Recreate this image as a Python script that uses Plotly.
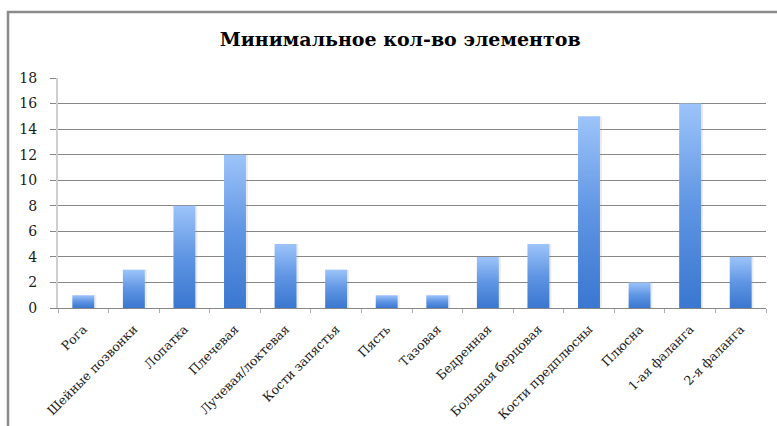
import plotly.graph_objects as go

categories = ["Рога", "Шейные позвонки", "Лопатка", "Плечевая", "Лучевая/локтевая",
              "Кости запястья", "Пясть", "Тазовая", "Бедренная", "Большая берцовая",
              "Кости предплюсны", "Плюсна", "1-ая фаланга", "2-я фаланга"]
values = [1, 3, 8, 12, 5, 3, 1, 1, 4, 5, 15, 2, 16, 4]
y_ticks = [0, 2, 4, 6, 8, 10, 12, 14, 16, 18]
title_text = "Минимальное кол-во элементов"

W, H = 777, 426
ML, MR, MT, MB = 58, 11, 78, 118
half = 0.217
GRAY = "#878787"
SERIF = "DejaVu Serif"

fig = go.Figure()

# subtle right-side shadow
for i, v in enumerate(values):
    fig.add_trace(go.Scatter(
        x=[i + half, i + half, i + half + 0.04, i + half + 0.04, i + half],
        y=[0, v, v, 0, 0], mode="lines", fill="toself",
        fillcolor="rgba(120,120,120,0.14)", line=dict(width=0),
        hoverinfo="skip", showlegend=False))

for i, v in enumerate(values):
    fig.add_trace(go.Scatter(
        x=[i - half, i - half, i + half, i + half, i - half],
        y=[0, v, v, 0, 0], mode="lines", fill="toself",
        fillgradient=dict(type="vertical",
                          colorscale=[[0, "#3a77d0"], [0.5, "#5f95e3"], [1, "#9dc4fa"]]),
        line=dict(width=0), name=categories[i], showlegend=False,
        hovertemplate=categories[i] + ": %{y}<extra></extra>"))

fig.update_layout(
    width=W, height=H,
    margin=dict(l=ML, r=MR, t=MT, b=MB, autoexpand=False),
    paper_bgcolor="white", plot_bgcolor="white",
    title=dict(text=title_text, x=0.515, xanchor="center",
               y=1 - 39 / H, yanchor="middle",
               font=dict(family=SERIF, size=19, weight="bold", color="black")),
    showlegend=False,
    xaxis=dict(range=[-0.5, len(categories) - 0.5], automargin=False,
               tickmode="array", tickvals=list(range(len(categories))), ticktext=categories,
               tickangle=-45, ticks="", showgrid=False, zeroline=False,
               showline=True, linecolor=GRAY, linewidth=1,
               ticklabelstandoff=8,
               tickfont=dict(family=SERIF, size=12.5, color="#1a1a1a"),
               minor=dict(tickmode="array",
                          tickvals=[k - 0.5 for k in range(len(categories) + 1)],
                          ticks="outside", ticklen=4, tickcolor="#b0b0b0", showgrid=False)),
    yaxis=dict(range=[0, 18], tickmode="array", tickvals=y_ticks, automargin=False,
               showgrid=True, gridcolor=GRAY, gridwidth=1, zeroline=False,
               ticks="outside", ticklen=6, tickcolor=GRAY,
               showline=True, linecolor="#cfcfcf", linewidth=2,
               ticklabelstandoff=10,
               tickfont=dict(family=SERIF, size=14, color="#1a1a1a")),
)

# outer chart frame
fig.add_shape(type="rect", xref="paper", yref="paper",
              x0=(8 - ML) / (W - ML - MR), x1=1.2,
              y0=-1.0, y1=1 + (MT - 12) / (H - MT - MB),
              line=dict(color="#8a8a8a", width=2.5), layer="below")

fig.write_html("out.html")
